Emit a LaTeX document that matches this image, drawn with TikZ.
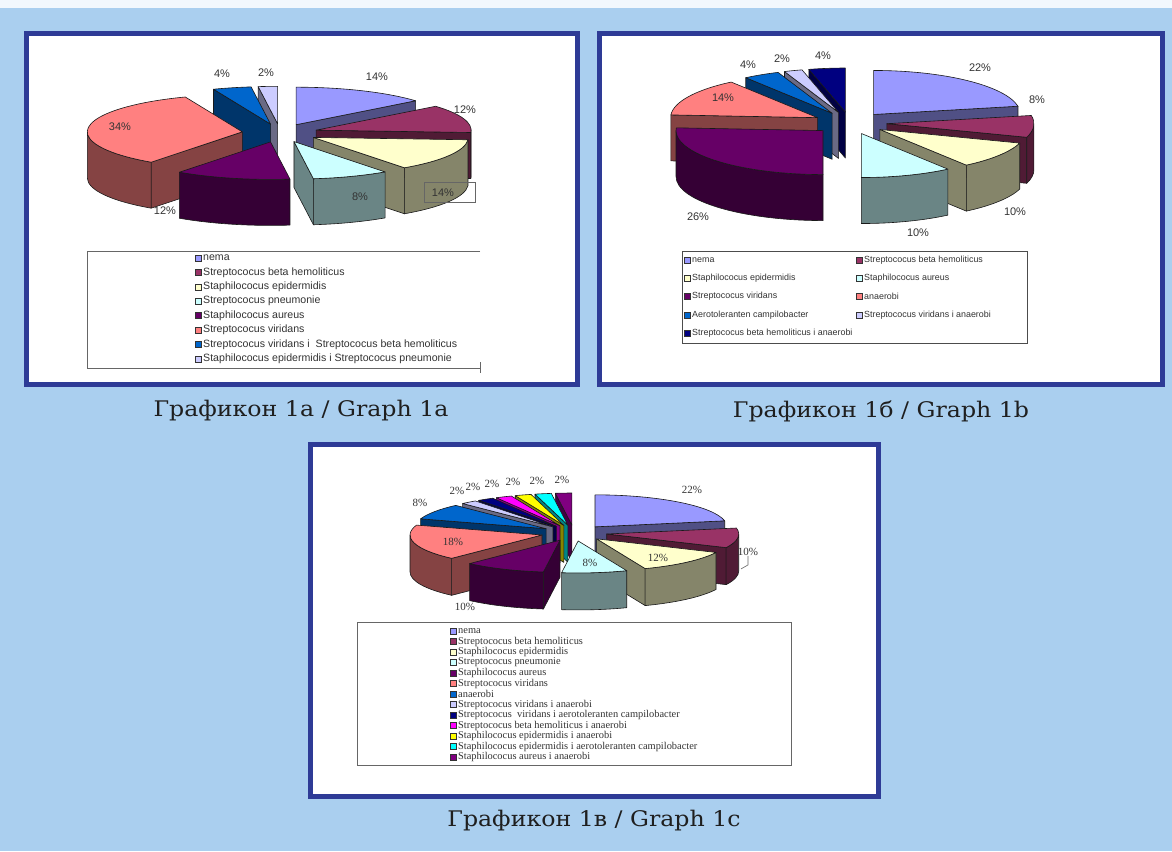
\documentclass[tikz,border=0pt]{standalone}
\usepackage{fontspec}
\setmainfont{Liberation Serif}
\setsansfont{Liberation Sans}
\newfontfamily\capfont[FakeStretch=1.1]{DejaVu Serif}
\usetikzlibrary{calc}
\definecolor{bg}{HTML}{AACFEF}
\definecolor{frm}{HTML}{2E3B96}
\definecolor{c1}{HTML}{9999FF}
\definecolor{c2}{HTML}{993366}
\definecolor{c3}{HTML}{FFFFCC}
\definecolor{c4}{HTML}{CCFFFF}
\definecolor{c5}{HTML}{660066}
\definecolor{c6}{HTML}{FF8080}
\definecolor{c7}{HTML}{0066CC}
\definecolor{c8}{HTML}{CCCCFF}
\definecolor{c9}{HTML}{000080}
\definecolor{c10}{HTML}{FF00FF}
\definecolor{c11}{HTML}{FFFF00}
\definecolor{c12}{HTML}{00FFFF}
\definecolor{c13}{HTML}{800080}
\definecolor{txt}{HTML}{333333}
% #1 cx, #2 cy (pixels, y down), #3 rx, #4 ry, #5 depth, #6 explode, #7 a1, #8 a2, #9 colour
\newcommand{\PieSlice}[9]{%
  \pgfmathsetmacro\slM{(#7+#8)/2}%
  \pgfmathsetmacro\slVx{#1+#6*cos(\slM)}%
  \pgfmathsetmacro\slVy{-#2+#6*(#4/#3)*sin(\slM)}%
  \pgfmathsetmacro\slVb{\slVy-#5}%
  \colorlet{slTop}{#9}%
  \colorlet{slSide}{#9!52!black}%
  \pgfmathtruncatemacro\slF{cos(#7)>0.001 ? 1 : 0}%
  \ifnum\slF=1
    \fill[slSide,sledge] (\slVx,\slVy) -- ++(#7:#3pt and #4pt) -- ++(0,-#5) -- (\slVx,\slVb) -- cycle;
  \fi
  \pgfmathtruncatemacro\slG{cos(#8)<-0.001 ? 1 : 0}%
  \ifnum\slG=1
    \fill[slSide,sledge] (\slVx,\slVy) -- ++(#8:#3pt and #4pt) -- ++(0,-#5) -- (\slVx,\slVb) -- cycle;
  \fi
  \pgfmathsetmacro\slLo{max(#7,-180)}%
  \pgfmathsetmacro\slHi{min(#8,0)}%
  \pgfmathtruncatemacro\slW{\slLo<\slHi ? 1 : 0}%
  \ifnum\slW=1
    \fill[slSide,sledge] ([shift={(\slLo:#3pt and #4pt)}]\slVx,\slVy) arc[start angle=\slLo,end angle=\slHi,x radius=#3pt,y radius=#4pt] -- ++(0,-#5) arc[start angle=\slHi,end angle=\slLo,x radius=#3pt,y radius=#4pt] -- cycle;
  \fi
  \pgfmathsetmacro\slLo{max(#7,180)}%
  \pgfmathsetmacro\slHi{min(#8,360)}%
  \pgfmathtruncatemacro\slW{\slLo<\slHi ? 1 : 0}%
  \ifnum\slW=1
    \fill[slSide,sledge] ([shift={(\slLo:#3pt and #4pt)}]\slVx,\slVy) arc[start angle=\slLo,end angle=\slHi,x radius=#3pt,y radius=#4pt] -- ++(0,-#5) arc[start angle=\slHi,end angle=\slLo,x radius=#3pt,y radius=#4pt] -- cycle;
  \fi
  \fill[slTop,sledge] (\slVx,\slVy) -- ++(#7:#3pt and #4pt) arc[start angle=#7,end angle=#8,x radius=#3pt,y radius=#4pt] -- cycle;
}
\tikzset{
  sledge/.style={draw=black!90,line width=0.6pt,line join=round},
  framebox/.style={draw=frm,line width=5pt,fill=white},
  captxt/.style={font=\capfont\fontsize{21.5}{24}\selectfont,text=black!88,inner sep=0pt},
  lblA/.style={font=\sffamily\fontsize{11}{12}\selectfont,text=txt,inner sep=0pt},
  lblC/.style={font=\rmfamily\fontsize{11}{12}\selectfont,text=txt,inner sep=0pt},
  legA/.style={font=\sffamily\fontsize{10.6}{11}\selectfont,text=txt,inner sep=0pt,anchor=west},
  legB/.style={font=\sffamily\fontsize{8.9}{10}\selectfont,text=txt,inner sep=0pt,anchor=west},
  legC/.style={font=\rmfamily\fontsize{10.4}{11}\selectfont,text=txt,inner sep=0pt,anchor=west},
  legsq/.style={draw=black!80,line width=0.4pt,minimum size=6pt,inner sep=0pt},
}
\begin{document}
\begin{tikzpicture}[x=1pt,y=1pt]
\useasboundingbox (0,0) rectangle (1172,-851);
\fill[bg] (0,0) rectangle (1172,-851);
\fill[white!85!bg] (0,0) rectangle (1172,-8);
% frames
\draw[framebox] (26.5,-33.5) rectangle (577.5,-384.5);
\draw[framebox] (599.5,-33.5) rectangle (1162.5,-384.5);
\draw[framebox] (310.5,-444.5) rectangle (878.5,-796.5);
% captions
\node[captxt] (cap1a) at (301,-411) {Графикон 1а / Graph 1a};
\node[captxt] (cap1b) at (881,-411) {Графикон 1б / Graph 1b};
\node[captxt] (cap1c) at (594,-821) {Графикон 1в / Graph 1c};

% ---------- Graph 1a ----------
\PieSlice{280}{133}{155}{37.5}{46}{38}{90}{97.2}{c8}
\PieSlice{280}{133}{155}{37.5}{46}{38}{97.2}{111.6}{c7}
\PieSlice{280}{133}{155}{37.5}{46}{38}{39.6}{90}{c1}
\PieSlice{280}{133}{155}{37.5}{46}{38}{-3.6}{39.6}{c2}
\PieSlice{280}{133}{155}{37.5}{46}{38}{111.6}{234}{c6}
\PieSlice{280}{133}{155}{37.5}{46}{38}{-54}{-3.6}{c3}
\PieSlice{280}{133}{155}{37.5}{46}{38}{-82.8}{-54}{c4}
\PieSlice{280}{133}{155}{37.5}{46}{38}{-126}{-82.8}{c5}
\node[lblA] (pa1) at (377,-77) {14\%};
\node[lblA] (pa2) at (465,-110) {12\%};
\node[lblA] (pa3) at (443,-193) {14\%};
\draw[black!60,line width=0.6pt] (424,-182) rectangle (475,-202);
\node[lblA] (pa4) at (360,-197) {8\%};
\node[lblA] (pa5) at (165,-211) {12\%};
\node[lblA] (pa6) at (120,-127) {34\%};
\node[lblA] (pa7) at (222,-74) {4\%};
\node[lblA] (pa8) at (266,-73) {2\%};
% legend 1a
\draw[black!60,line width=0.7pt] (480,-251) -- (87,-251) -- (87,-368) -- (480,-368);
\draw[black!60,line width=0.7pt] (480,-362) -- (480,-373);
\foreach \t [count=\i] in {nema,Streptococus beta hemoliticus,Staphilococus epidermidis,Streptococus pneumonie,Staphilococus aureus,Streptococus viridans,Streptococus viridans i\ \ Streptococus beta hemoliticus,Staphilococus epidermidis i Streptococus pneumonie}{
  \node[legsq,fill=c\i] (sqa\i) at (198,{-258-14.4*(\i-1)}) {};
  \node[legA] (lga\i) at (203,{-258-14.4*(\i-1)}) {\t};
}

% ---------- Graph 1b ----------
\PieSlice{850}{123}{147}{44}{46}{37}{90}{104.4}{c9}
\PieSlice{850}{123}{147}{44}{46}{37}{104.4}{111.6}{c8}
\PieSlice{850}{123}{147}{44}{46}{37}{111.6}{126}{c7}
\PieSlice{850}{123}{147}{44}{46}{37}{10.8}{90}{c1}
\PieSlice{850}{123}{147}{44}{46}{37}{126}{176.4}{c6}
\PieSlice{850}{123}{147}{44}{46}{37}{-18}{10.8}{c2}
\PieSlice{850}{123}{147}{44}{46}{37}{-54}{-18}{c3}
\PieSlice{850}{123}{147}{44}{46}{37}{176.4}{270}{c5}
\PieSlice{850}{123}{147}{44}{46}{37}{-90}{-54}{c4}
\node[lblA] (pb1) at (980,-68) {22\%};
\node[lblA] (pb2) at (1037,-100) {8\%};
\node[lblA] (pb3) at (1015,-212) {10\%};
\node[lblA] (pb4) at (918,-233) {10\%};
\node[lblA] (pb5) at (698,-217) {26\%};
\node[lblA] (pb6) at (723,-98) {14\%};
\node[lblA] (pb7) at (748,-65) {4\%};
\node[lblA] (pb8) at (782,-59) {2\%};
\node[lblA] (pb9) at (823,-56) {4\%};
% legend 1b
\draw[black!70,line width=0.7pt] (682,-251) rectangle (1027,-343);
\foreach \t/\c/\x/\y [count=\i] in {nema/c1/0/0,Streptococus beta hemoliticus/c2/1/0,Staphilococus epidermidis/c3/0/1,Staphilococus aureus/c4/1/1,Streptococus viridans/c5/0/2,anaerobi/c6/1/2,Aerotoleranten campilobacter/c7/0/3,Streptococus viridans i anaerobi/c8/1/3,Streptococus beta hemoliticus i anaerobi/c9/0/4}{
  \node[legsq,fill=\c] (sqb\i) at ({687+172*\x},{-260-18.25*\y}) {};
  \node[legB] (lgb\i) at ({692+172*\x},{-260-18.25*\y}) {\t};
}

% ---------- Graph 1c ----------
\PieSlice{574}{533}{132}{32}{37}{33}{90}{97.2}{c13}
\PieSlice{574}{533}{132}{32}{37}{33}{97.2}{104.4}{c12}
\PieSlice{574}{533}{132}{32}{37}{33}{104.4}{111.6}{c11}
\PieSlice{574}{533}{132}{32}{37}{33}{111.6}{118.8}{c10}
\PieSlice{574}{533}{132}{32}{37}{33}{118.8}{126}{c9}
\PieSlice{574}{533}{132}{32}{37}{33}{126}{133.2}{c8}
\PieSlice{574}{533}{132}{32}{37}{33}{10.8}{90}{c1}
\PieSlice{574}{533}{132}{32}{37}{33}{133.2}{162}{c7}
\PieSlice{574}{533}{132}{32}{37}{33}{-25.2}{10.8}{c2}
\PieSlice{574}{533}{132}{32}{37}{33}{162}{226.8}{c6}
\PieSlice{574}{533}{132}{32}{37}{33}{-68.4}{-25.2}{c3}
\PieSlice{574}{533}{132}{32}{37}{33}{-133.2}{-97.2}{c5}
\PieSlice{574}{533}{132}{32}{37}{33}{-97.2}{-68.4}{c4}
\node[lblC] (pc1) at (692,-490) {22\%};
\node[lblC] (pc2) at (748,-552) {10\%};
\draw[black!60,line width=0.6pt] (pc2.south) -- ++(0,-9) -- ++(-7,-4);
\node[lblC] (pc3) at (658,-558) {12\%};
\node[lblC] (pc4) at (590,-563) {8\%};
\node[lblC] (pc5) at (465,-607) {10\%};
\node[lblC] (pc6) at (453,-542) {18\%};
\node[lblC] (pc7) at (420,-503) {8\%};
\node[lblC] (pc8) at (457,-491) {2\%};
\node[lblC] (pc9) at (473,-487) {2\%};
\node[lblC] (pc10) at (492,-484) {2\%};
\node[lblC] (pc11) at (513,-482) {2\%};
\node[lblC] (pc12) at (537,-481) {2\%};
\node[lblC] (pc13) at (562,-480) {2\%};
% legend 1c
\draw[black!60,line width=0.7pt] (357,-622) rectangle (791,-765);
\foreach \t [count=\i] in {nema,Streptococus beta hemoliticus,Staphilococus epidermidis,Streptococus pneumonie,Staphilococus aureus,Streptococus viridans,anaerobi,Streptococus viridans i anaerobi,Streptococus\ \ viridans i aerotoleranten campilobacter,Streptococus beta hemoliticus i anaerobi,Staphilococus epidermidis i anaerobi,Staphilococus epidermidis i aerotoleranten campilobacter,Staphilococus aureus i anaerobi}{
  \node[legsq,fill=c\i] (sqc\i) at (453,{-631-10.5*(\i-1)}) {};
  \node[legC] (lgc\i) at (458,{-631-10.5*(\i-1)}) {\t};
}
\end{tikzpicture}
\end{document}
